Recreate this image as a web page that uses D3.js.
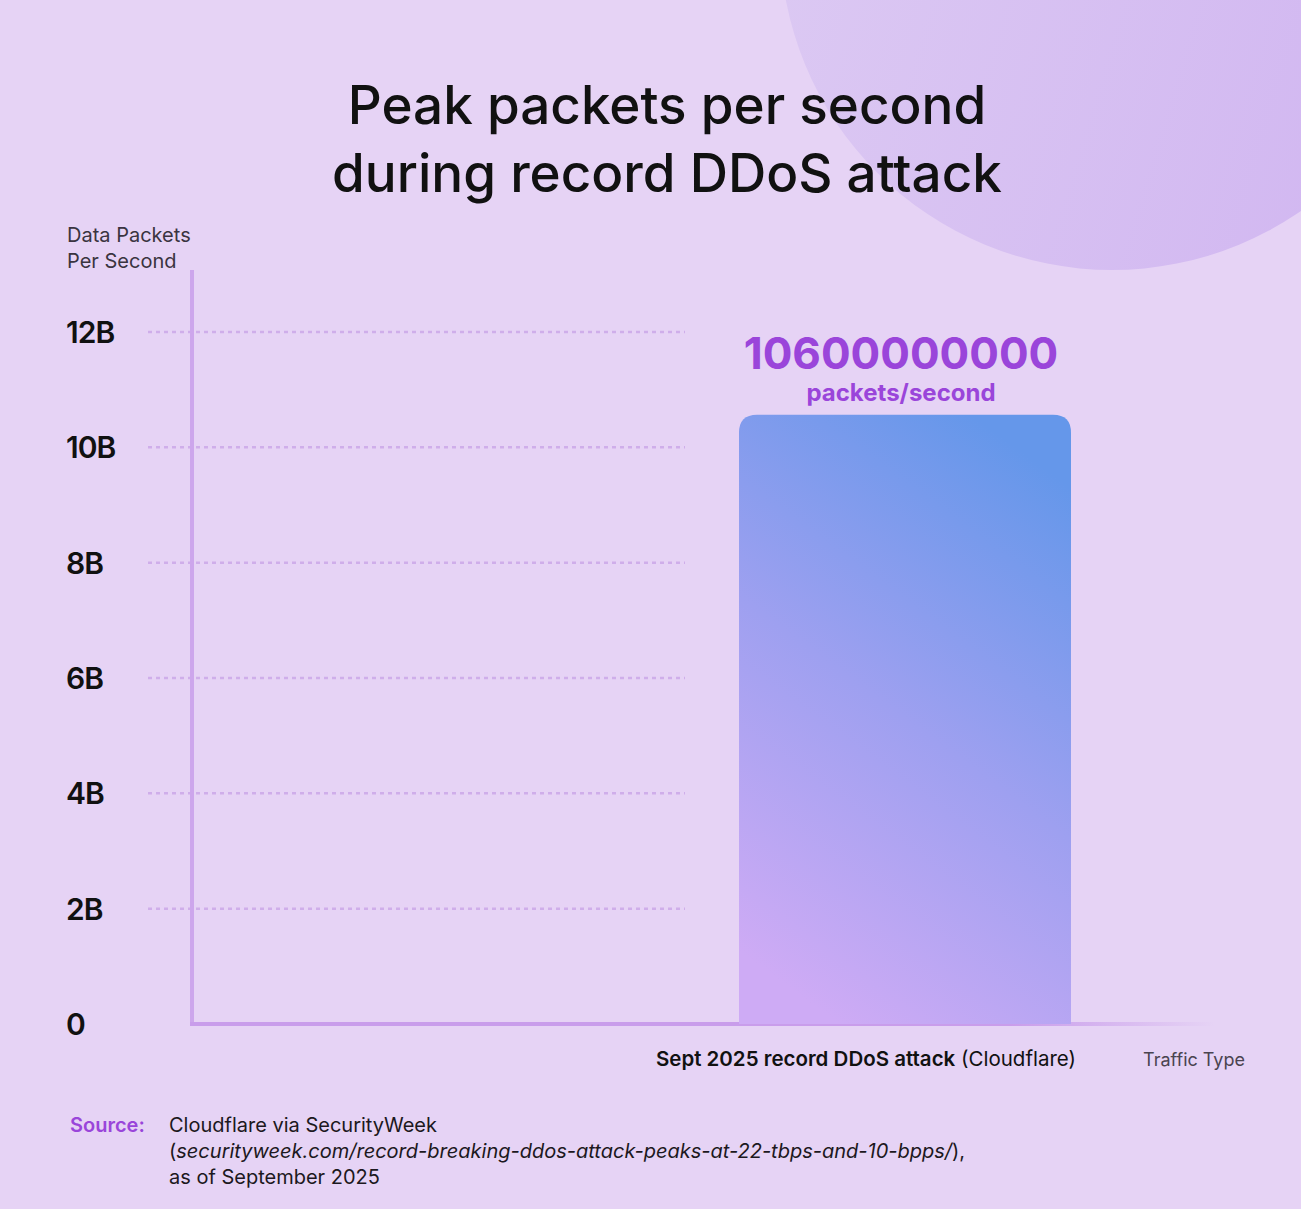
<!DOCTYPE html>
<html>
<head>
<meta charset="utf-8">
<script src="https://cdn.jsdelivr.net/npm/d3@7"></script>
<style>
  html, body { margin: 0; padding: 0; background: #e6d3f5; }
  svg { display: block; font-family: "Inter", "Lato", sans-serif; }
</style>
</head>
<body>
<svg id="chart" width="1301" height="1209"></svg>
<script>
// chart data
const categories = ["Sept 2025 record DDoS attack"];
const categoryNotes = ["(Cloudflare)"];
const values = [10600000000];
const yTicks = [0, 2e9, 4e9, 6e9, 8e9, 10e9, 12e9];
const yTickLabels = ["0", "2B", "4B", "6B", "8B", "10B", "12B"];
const titleLines = ["Peak packets per second", "during record DDoS attack"];

const svg = d3.select("#chart");
const W = 1301, H = 1209;
const defs = svg.append("defs");

// background + corner circle
svg.append("rect").attr("width", W).attr("height", H).attr("fill", "#e6d3f5");
const circGrad = defs.append("linearGradient").attr("id", "circGrad")
  .attr("x1", "0").attr("y1", "0").attr("x2", "1").attr("y2", "0.3");
circGrad.append("stop").attr("offset", "0%").attr("stop-color", "#ddcbf3");
circGrad.append("stop").attr("offset", "100%").attr("stop-color", "#d2b8f1");
svg.append("circle").attr("cx", 1112).attr("cy", -62).attr("r", 332)
  .attr("fill", "url(#circGrad)");

// title
svg.append("g").selectAll("text").data(titleLines).join("text")
  .attr("x", 667).attr("y", (d, i) => 124 + i * 68)
  .attr("text-anchor", "middle")
  .attr("font-size", 53).attr("font-weight", 500).attr("fill", "#111")
  .text(d => d);

// scales
const y = d3.scaleLinear().domain([0, 12e9]).range([1024, 332]);
const x = d3.scaleBand().domain(categories).range([739, 1071]).padding(0);

// gridlines
svg.append("g").selectAll("line").data(yTicks.filter(d => d > 0)).join("line")
  .attr("x1", 148).attr("x2", 685)
  .attr("y1", d => y(d)).attr("y2", d => y(d))
  .attr("stroke", "#cfaeea").attr("stroke-width", 2.5)
  .attr("stroke-dasharray", "4,4");

// y tick labels
svg.append("g").selectAll("text").data(yTicks).join("text")
  .attr("x", 66).attr("y", d => y(d) + 11)
  .attr("font-size", 30).attr("font-weight", 600).attr("fill", "#111")
  .attr("letter-spacing", -1)
  .text((d, i) => yTickLabels[i]);

// y axis title
svg.append("text").attr("x", 67).attr("y", 242)
  .attr("font-size", 20).attr("fill", "#3a3440")
  .selectAll("tspan").data(["Data Packets", "Per Second"]).join("tspan")
  .attr("x", 67).attr("dy", (d, i) => i ? 26 : 0).text(d => d);

// axis lines
svg.append("line").attr("x1", 192).attr("x2", 192).attr("y1", 270).attr("y2", 1026)
  .attr("stroke", "#cda6ec").attr("stroke-width", 4);
const baseGrad = defs.append("linearGradient").attr("id", "baseGrad")
  .attr("gradientUnits", "userSpaceOnUse").attr("x1", 190).attr("x2", 1215).attr("y1", 0).attr("y2", 0);
baseGrad.append("stop").attr("offset", "0%").attr("stop-color", "#c99deb");
baseGrad.append("stop").attr("offset", "80%").attr("stop-color", "#c99deb");
baseGrad.append("stop").attr("offset", "100%").attr("stop-color", "#c99deb").attr("stop-opacity", 0);
svg.append("line").attr("x1", 190).attr("x2", 1215).attr("y1", 1024).attr("y2", 1024)
  .attr("stroke", "url(#baseGrad)").attr("stroke-width", 4);

// bar
const barGrad = defs.append("linearGradient").attr("id", "barGrad")
  .attr("x1", "0.3").attr("y1", "1").attr("x2", "0.7").attr("y2", "0");
barGrad.append("stop").attr("offset", "0%").attr("stop-color", "#ceabf5");
barGrad.append("stop").attr("offset", "50%").attr("stop-color", "#9ea0f0");
barGrad.append("stop").attr("offset", "100%").attr("stop-color", "#6597ea");

const r = 18;
svg.append("g").selectAll("path").data(values).join("path")
  .attr("d", (d, i) => {
    const x0 = x(categories[i]), x1 = x0 + x.bandwidth();
    const yt = y(d) + 2, yb = y(0);
    return `M${x0},${yb} L${x0},${yt + r} Q${x0},${yt} ${x0 + r},${yt} L${x1 - r},${yt} Q${x1},${yt} ${x1},${yt + r} L${x1},${yb} Z`;
  })
  .attr("fill", "url(#barGrad)");

// value labels
const vg = svg.append("g").selectAll("g").data(values).join("g")
  .attr("transform", (d, i) => `translate(${x(categories[i]) + x.bandwidth() / 2 - 4},${y(d)})`);
vg.append("text").attr("y", -44).attr("text-anchor", "middle")
  .attr("font-size", 44).attr("font-weight", 700).attr("fill", "#9a45da")
  .text(d => d3.format("d")(d));
vg.append("text").attr("y", -12).attr("text-anchor", "middle")
  .attr("font-size", 24).attr("font-weight", 700).attr("fill", "#9a45da")
  .text("packets/second");

// x labels
const xl = svg.append("g").selectAll("text").data(categories).join("text")
  .attr("x", (d) => x(d) + x.bandwidth() / 2 - 39).attr("y", 1066)
  .attr("text-anchor", "middle").attr("font-size", 20.5).attr("fill", "#111");
xl.append("tspan").attr("font-weight", 600).text(d => d);
xl.append("tspan").text((d, i) => " " + categoryNotes[i]);

svg.append("text").attr("x", 1245).attr("y", 1066).attr("text-anchor", "end")
  .attr("font-size", 18).attr("fill", "#4a4450").text("Traffic Type");

// source
svg.append("text").attr("x", 70).attr("y", 1132)
  .attr("font-size", 20).attr("font-weight", 600).attr("fill", "#9a45da").text("Source:");
const src = svg.append("text").attr("x", 169).attr("y", 1132)
  .attr("font-size", 20).attr("fill", "#1c1820");
src.append("tspan").attr("x", 169).text("Cloudflare via SecurityWeek");
const l2 = src.append("tspan").attr("x", 169).attr("dy", 26);
l2.append("tspan").text("(");
l2.append("tspan").attr("font-style", "italic").text("securityweek.com/record-breaking-ddos-attack-peaks-at-22-tbps-and-10-bpps/");
l2.append("tspan").text("),");
src.append("tspan").attr("x", 169).attr("dy", 26).text("as of September 2025");
</script>
</body>
</html>
